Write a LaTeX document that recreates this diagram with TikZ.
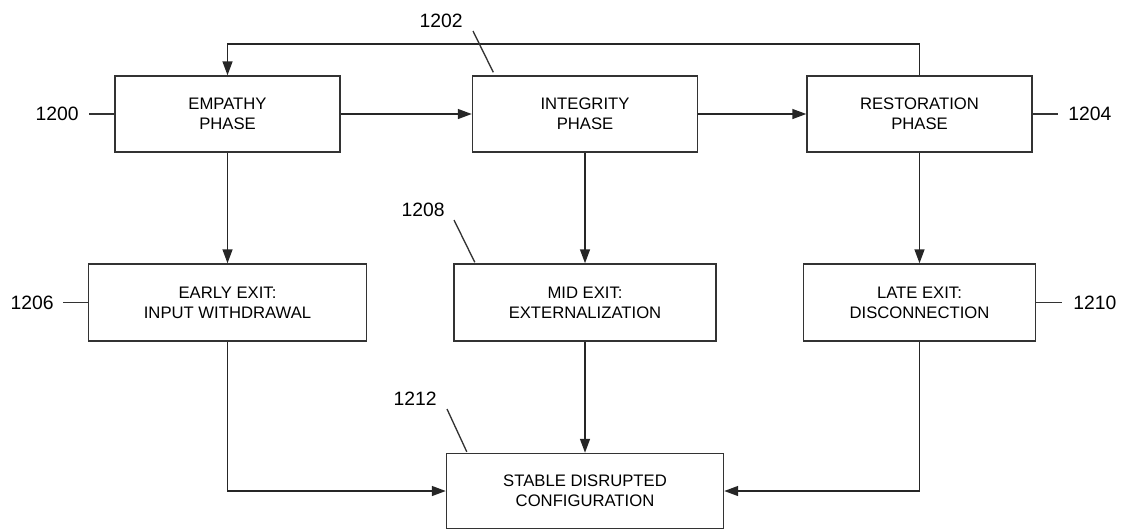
\documentclass[tikz,border=0pt]{standalone}
\usepackage{fontspec}
\setmainfont{Liberation Sans}
\usepackage{tikz}
\usetikzlibrary{arrows.meta, positioning, calc}

\begin{document}
\begin{tikzpicture}[
    x=0.75pt, y=-0.75pt,
    box/.style={draw=black!80, line width=1.1pt, inner sep=0pt, minimum height=57pt, align=center, font=\fontsize{12.5}{15}\selectfont},
    arr/.style={-{Triangle[length=10.5pt, width=7.5pt]}, line width=1.1pt, draw=black!85},
    lead/.style={line width=1pt, draw=black!80},
    num/.style={inner sep=0pt, font=\fontsize{14.5}{17}\selectfont},
]
\useasboundingbox (0,0) rectangle (1126,529);

% Phases (top row)
\node[box, minimum width=168.75pt] (empathy) at (227.5,114) {EMPATHY\\PHASE};
\node[box, minimum width=168.75pt] (integrity) at (585,114) {INTEGRITY\\PHASE};
\node[box, minimum width=168.75pt] (restoration) at (919.5,114) {RESTORATION\\PHASE};

\draw[arr] (empathy) -- (integrity);
\draw[arr] (integrity) -- (restoration);

% Feedback from restoration back to empathy
\coordinate (loop) at (0,44);
\draw[arr] (restoration.north) -- (restoration.north |- loop) -- (empathy.north |- loop) -- (empathy.north);

% Exits (middle row)
\node[box, minimum width=208.5pt, minimum height=57.75pt] (early) at (227.5,302.5) {EARLY EXIT:\\INPUT WITHDRAWAL};
\node[box, minimum width=196.5pt, minimum height=57.75pt] (mid) at (585,302.5) {MID EXIT:\\EXTERNALIZATION};
\node[box, minimum width=174pt, minimum height=57.75pt] (late) at (919.5,302.5) {LATE EXIT:\\DISCONNECTION};

\draw[arr] (empathy) -- (early);
\draw[arr] (integrity) -- (mid);
\draw[arr] (restoration) -- (late);

% End state (bottom row)
\node[box, minimum width=207.75pt, minimum height=56.25pt] (stable) at (585,491) {STABLE DISRUPTED\\CONFIGURATION};

\draw[arr] (early.south) |- (stable.west);
\draw[arr] (mid) -- (stable);
\draw[arr] (late.south) |- (stable.east);

% Reference numerals
\node[num, anchor=east] (l1200) at (79,114) {1200};
\node[num, anchor=east] (l1202) at (463,21) {1202};
\node[num, anchor=west] (l1204) at (1068,114) {1204};
\node[num, anchor=east] (l1206) at (54,302.5) {1206};
\node[num, anchor=east] (l1208) at (445,210) {1208};
\node[num, anchor=west] (l1210) at (1073,302.5) {1210};
\node[num, anchor=east] (l1212) at (437,399) {1212};

\draw[lead, shorten <=7.5pt] (l1200.east) -- (empathy.west);
\draw[lead] ($(l1202.east)+(10,10)$) -- ($(integrity.north west)+(21.5,-3)$);
\draw[lead, shorten >=7.5pt] (restoration.east) -- (l1204.west);
\draw[lead, shorten <=6.75pt] (l1206.east) -- (early.west);
\draw[lead] ($(l1208.east)+(9,10)$) -- ($(mid.north west)+(21.5,-1)$);
\draw[lead, shorten >=8.25pt] (late.east) -- (l1210.west);
\draw[lead] ($(l1212.east)+(10,10)$) -- ($(stable.north west)+(21,-1)$);

\end{tikzpicture}
\end{document}
